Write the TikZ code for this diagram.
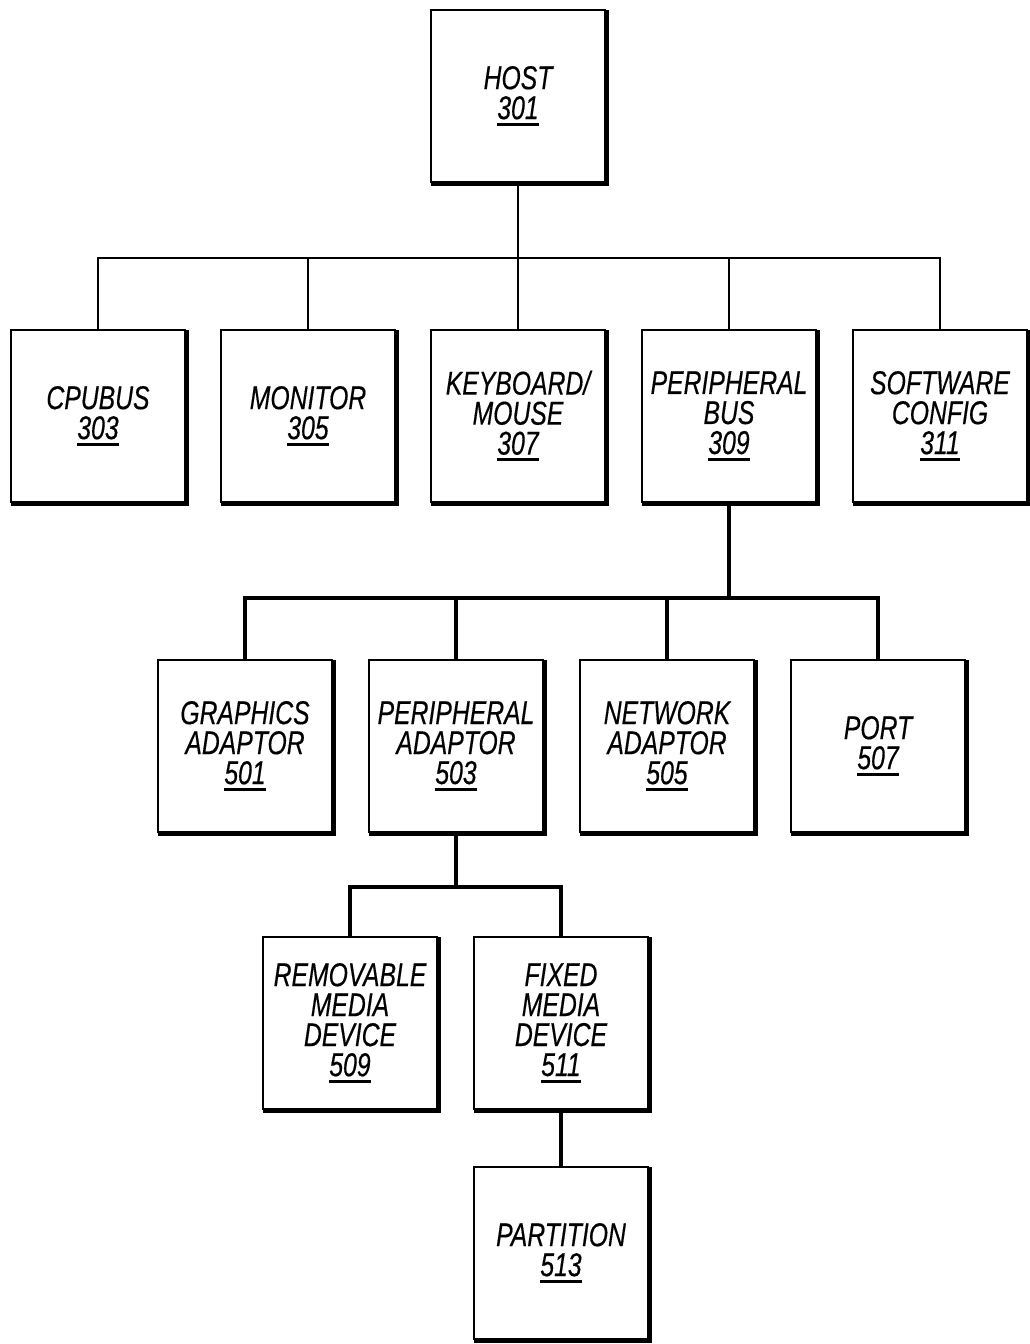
\documentclass[tikz,border=0pt]{standalone}
\usepackage{fontspec}
\setmainfont{Liberation Sans}[FakeStretch=0.75, FakeBold=0.35]
\usetikzlibrary{positioning}

\newcommand\refnum[1]{\setbox0\hbox{#1}\vtop{\box0\kern1.6pt\hrule height1.6pt}}

\begin{document}
\begin{tikzpicture}[
  x=0.5pt, y=-0.5pt,
  box/.style={draw, line width=1.1pt, inner sep=0pt, outer sep=0pt,
    minimum width=87pt, minimum height=86pt, align=center,
    font=\itshape\fontsize{16.5}{15}\selectfont,
    append after command={\pgfextra{\draw[line width=2.4pt]
      ([shift={(0.7pt,0pt)}]\tikzlastnode.north east) -- ([shift={(0.7pt,-0.7pt)}]\tikzlastnode.south east)
      -- ([shift={(0pt,-0.7pt)}]\tikzlastnode.south west);}}},
  link/.style={line width=1pt},
  heavy/.style={line width=2.3pt}
]
\useasboundingbox (0,0) rectangle (1029,1344);

% host and its children
\node[box] (host) at (518,96) {HOST\\\refnum{301}};

\node[box] (cpubus) at (98,416) {CPUBUS\\\refnum{303}};
\node[box] (monitor) at (308,416) {MONITOR\\\refnum{305}};
\node[box] (kbd) at (518,416) {KEYBOARD/\\MOUSE\\\refnum{307}};
\node[box] (pbus) at (729,416) {PERIPHERAL\\BUS\\\refnum{309}};
\node[box] (swcfg) at (940,416) {SOFTWARE\\CONFIG\\\refnum{311}};

\coordinate (bus1) at (518,258);
\draw[link] (host.south) -- (kbd.north);
\draw[link] (cpubus.north) |- (bus1) -| (swcfg.north);
\draw[link] (monitor.north) -- (monitor.north |- bus1);
\draw[link] (pbus.north) -- (pbus.north |- bus1);

% peripheral bus
\node[box] (gfx) at (245,746) {GRAPHICS\\ADAPTOR\\\refnum{501}};
\node[box] (padapt) at (456,746) {PERIPHERAL\\ADAPTOR\\\refnum{503}};
\node[box] (net) at (667,746) {NETWORK\\ADAPTOR\\\refnum{505}};
\node[box] (port) at (878,746) {PORT\\\refnum{507}};

\coordinate (bus2) at (729,598);
\draw[heavy] (pbus.south) -- (bus2);
\draw[heavy] (gfx.north) |- (bus2) -| (port.north);
\draw[heavy] (padapt.north) -- (padapt.north |- bus2);
\draw[heavy] (net.north) -- (net.north |- bus2);

% peripheral adaptor
\node[box] (rmd) at (350,1023) {REMOVABLE\\MEDIA\\DEVICE\\\refnum{509}};
\node[box] (fmd) at (561,1023) {FIXED\\MEDIA\\DEVICE\\\refnum{511}};

\coordinate (bus3) at (456,887);
\draw[heavy] (padapt.south) -- (bus3);
\draw[heavy] (rmd.north) |- (bus3) -| (fmd.north);

% partition
\node[box] (part) at (561,1253) {PARTITION\\\refnum{513}};
\draw[heavy] (fmd.south) -- (part.north);

\end{tikzpicture}
\end{document}
